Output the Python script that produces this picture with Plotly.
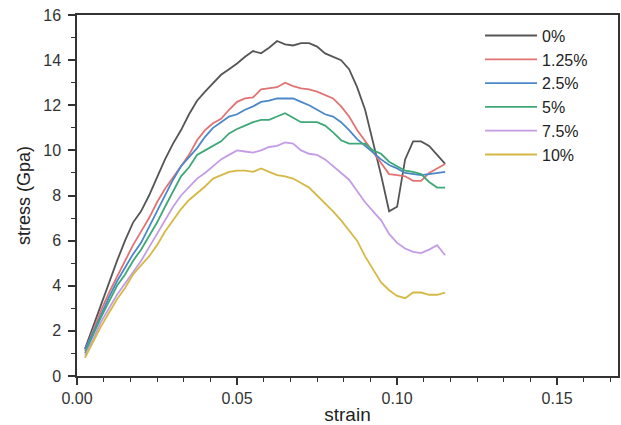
import plotly.graph_objects as go

strain = [0.0025, 0.005, 0.0075, 0.01, 0.0125, 0.015, 0.0175, 0.02, 0.0225, 0.025,
          0.0275, 0.03, 0.0325, 0.035, 0.0375, 0.04, 0.0425, 0.045, 0.0475, 0.05,
          0.0525, 0.055, 0.0575, 0.06, 0.0625, 0.065, 0.0675, 0.07, 0.0725, 0.075,
          0.0775, 0.08, 0.0825, 0.085, 0.0875, 0.09, 0.0925, 0.095, 0.0975, 0.1,
          0.1025, 0.105, 0.1075, 0.11, 0.1125, 0.115]

s_0 = [1.2, 2.2, 3.2, 4.2, 5.1, 6.0, 6.8, 7.3, 8.0, 8.8,
       9.6, 10.3, 10.9, 11.6, 12.2, 12.6, 13.0, 13.35, 13.6, 13.85,
       14.15, 14.4, 14.3, 14.55, 14.85, 14.7, 14.65, 14.75, 14.75, 14.6,
       14.3, 14.15, 14.0, 13.6, 12.8, 11.8, 10.4, 8.9, 7.3, 7.5,
       9.6, 10.4, 10.4, 10.2, 9.8, 9.4]

s_125 = [1.1, 2.0, 2.9, 3.7, 4.4, 5.1, 5.8, 6.4, 7.0, 7.7,
         8.3, 8.8, 9.3, 9.8, 10.45, 10.9, 11.2, 11.4, 11.8, 12.15,
         12.3, 12.35, 12.7, 12.75, 12.8, 13.0, 12.85, 12.75, 12.7, 12.6,
         12.45, 12.3, 11.95, 11.5, 10.9, 10.4, 9.9, 9.4, 8.95, 8.9,
         8.85, 8.65, 8.65, 9.0, 9.2, 9.4]

s_25 = [1.2, 1.9, 2.7, 3.5, 4.2, 4.8, 5.4, 5.9, 6.6, 7.3,
        8.0, 8.7, 9.3, 9.7, 10.1, 10.6, 11.0, 11.25, 11.5, 11.6,
        11.8, 11.95, 12.15, 12.2, 12.3, 12.3, 12.3, 12.15, 12.0, 11.8,
        11.6, 11.5, 11.25, 10.9, 10.5, 10.2, 9.9, 9.6, 9.35, 9.2,
        9.0, 8.95, 8.9, 8.95, 9.0, 9.05]

s_5 = [1.0, 1.8, 2.6, 3.3, 4.0, 4.5, 5.1, 5.6, 6.2, 6.8,
       7.5, 8.2, 8.85, 9.25, 9.8, 10.0, 10.2, 10.4, 10.75, 10.95,
       11.1, 11.25, 11.35, 11.35, 11.5, 11.65, 11.45, 11.25, 11.25, 11.25,
       11.1, 10.8, 10.45, 10.3, 10.3, 10.3, 10.0, 9.85, 9.5, 9.3,
       9.1, 9.05, 8.95, 8.6, 8.35, 8.35]

s_75 = [0.9, 1.6, 2.4, 3.0, 3.6, 4.1, 4.6, 5.1, 5.7, 6.3,
        6.9, 7.5, 8.0, 8.4, 8.75, 9.0, 9.3, 9.6, 9.8, 10.0,
        9.95, 9.9, 10.0, 10.15, 10.2, 10.35, 10.3, 10.0, 9.85, 9.8,
        9.6, 9.3, 9.0, 8.7, 8.2, 7.7, 7.3, 6.9, 6.3, 5.9,
        5.65, 5.5, 5.45, 5.6, 5.8, 5.35]

s_10 = [0.8, 1.5, 2.2, 2.8, 3.4, 3.9, 4.5, 4.9, 5.3, 5.8,
        6.4, 6.9, 7.4, 7.8, 8.1, 8.4, 8.75, 8.9, 9.05, 9.1,
        9.1, 9.05, 9.2, 9.05, 8.9, 8.85, 8.75, 8.55, 8.35, 8.0,
        7.65, 7.3, 6.9, 6.45, 6.0, 5.3, 4.75, 4.15, 3.8, 3.55,
        3.45, 3.7, 3.7, 3.6, 3.6, 3.7]

names = ["0%", "1.25%", "2.5%", "5%", "7.5%", "10%"]
colors = ["#555555", "#e27373", "#4a88c9", "#3ea877", "#c49ce6", "#d6b845"]
series = [s_0, s_125, s_25, s_5, s_75, s_10]

x_ticks = [0.0, 0.05, 0.10, 0.15]
x_labels = ["0.00", "0.05", "0.10", "0.15"]
y_ticks = [0, 2, 4, 6, 8, 10, 12, 14, 16]

fig = go.Figure()
for nm, col, ys in zip(names, colors, series):
    fig.add_trace(go.Scatter(x=strain, y=ys, name=nm, mode="lines",
                             line=dict(color=col, width=1.8)))

axis_common = dict(showline=True, linecolor="#333333", linewidth=1.5, mirror=True,
                   ticks="outside", ticklen=7, tickwidth=1.5, tickcolor="#333333",
                   showgrid=False, zeroline=False, automargin=False,
                   tickfont=dict(family="Arial, Liberation Sans", size=16, color="#333333"))

fig.update_xaxes(range=[0, 0.169], tickvals=x_ticks, ticktext=x_labels,
                 minor=dict(dtick=0.05 / 6, tick0=0, ticks="outside", ticklen=4,
                            tickwidth=1.2, tickcolor="#333333"),
                 title=dict(text="strain", standoff=2,
                            font=dict(family="Arial, Liberation Sans", size=19, color="#222222")),
                 **axis_common)
fig.update_yaxes(range=[0, 16], tickvals=y_ticks, ticklabelstandoff=4,
                 minor=dict(dtick=1, tick0=0, ticks="outside", ticklen=4,
                            tickwidth=1.2, tickcolor="#333333"),
                 title=dict(text="stress (Gpa)", standoff=8,
                            font=dict(family="Arial, Liberation Sans", size=18, color="#222222")),
                 **axis_common)

fig.update_layout(width=621, height=425,
                  margin=dict(l=77, r=3, t=15, b=49),
                  paper_bgcolor="white", plot_bgcolor="white",
                  showlegend=True,
                  legend=dict(x=0.745, y=0.99, xanchor="left", yanchor="top",
                              bgcolor="rgba(0,0,0,0)", itemwidth=52,
                              font=dict(family="Arial, Liberation Sans", size=16, color="#222222"),
                              tracegroupgap=0))

fig.write_html("out.html", config={"displayModeBar": False},
               post_script="document.body.style.margin='0px';document.body.style.padding='0px';")
